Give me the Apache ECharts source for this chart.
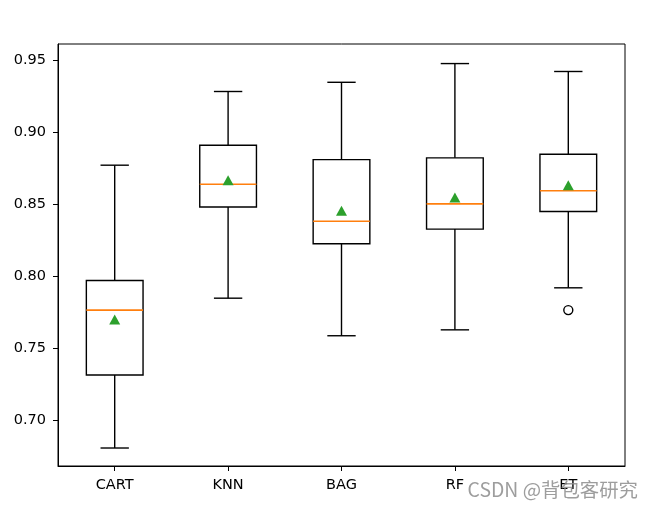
<!DOCTYPE html>
<html>
<head>
<meta charset="utf-8">
<script src="https://cdn.jsdelivr.net/npm/echarts@6/dist/echarts.min.js"></script>
<style>
html,body{margin:0;padding:0;background:#fff;}
#c{width:653px;height:511px;}
</style>
</head>
<body>
<div id="c"></div>
<script>
const categories = ['CART', 'KNN', 'BAG', 'RF', 'ET'];
const whiskerLow = [0.6808, 0.7849, 0.7588, 0.7629, 0.7921];
const q1 = [0.7315, 0.8483, 0.8227, 0.8329, 0.8451];
const medians = [0.7766, 0.8641, 0.8384, 0.8504, 0.8595];
const q3 = [0.7972, 0.8912, 0.8812, 0.8824, 0.8849];
const whiskerHigh = [0.8773, 0.9285, 0.9349, 0.9479, 0.9424];
const means = [0.7701, 0.8669, 0.8456, 0.8549, 0.8634];
const outliers = [['ET', 0.7766]];
const yTicks = [0.70, 0.75, 0.80, 0.85, 0.90, 0.95];

const boxData = categories.map((c, i) => [i, whiskerLow[i], q1[i], medians[i], q3[i], whiskerHigh[i]]);

function renderBox(params, api) {
  const idx = api.value(0);
  const lo = api.coord([idx, api.value(1)]);
  const b1 = api.coord([idx, api.value(2)]);
  const md = api.coord([idx, api.value(3)]);
  const b3 = api.coord([idx, api.value(4)]);
  const hi = api.coord([idx, api.value(5)]);
  const cw = api.size([1, 0])[0];
  const hw = cw * 0.25;
  const cap = cw * 0.125;
  const x = lo[0];
  const ls = {stroke: '#000', lineWidth: 1.4, fill: null};
  return {
    type: 'group',
    children: [
      {type: 'line', shape: {x1: x, y1: hi[1], x2: x, y2: b3[1]}, style: ls},
      {type: 'line', shape: {x1: x, y1: b1[1], x2: x, y2: lo[1]}, style: ls},
      {type: 'line', shape: {x1: x - cap, y1: hi[1], x2: x + cap, y2: hi[1]}, style: ls},
      {type: 'line', shape: {x1: x - cap, y1: lo[1], x2: x + cap, y2: lo[1]}, style: ls},
      {type: 'rect', shape: {x: x - hw, y: b3[1], width: hw * 2, height: b1[1] - b3[1]}, style: ls},
      {type: 'line', shape: {x1: x - hw, y1: md[1], x2: x + hw, y2: md[1]}, style: {stroke: '#ff7f0e', lineWidth: 1.6}}
    ]
  };
}

const chart = echarts.init(document.getElementById('c'), null, {renderer: 'canvas'});
chart.setOption({
  animation: false,
  backgroundColor: '#fff',
  grid: {left: 58, right: 28, top: 44, bottom: 45, show: true, borderColor: '#000', borderWidth: 1, backgroundColor: 'transparent'},
  xAxis: {
    type: 'category',
    data: categories,
    boundaryGap: true,
    axisLine: {show: true, lineStyle: {color: '#000', width: 1}},
    axisTick: {show: true, alignWithLabel: true, length: 5, lineStyle: {color: '#000'}},
    axisLabel: {color: '#000', fontFamily: 'DejaVu Sans', fontSize: 14.5, margin: 12},
    splitLine: {show: false}
  },
  yAxis: {
    type: 'value',
    min: 0.6683,
    max: 0.9615,
    axisLine: {show: true, lineStyle: {color: '#000', width: 1}},
    axisTick: {show: true, length: 5, lineStyle: {color: '#000'}, customValues: yTicks},
    axisLabel: {color: '#000', fontFamily: 'DejaVu Sans', fontSize: 14.5, margin: 12, customValues: yTicks, formatter: v => v.toFixed(2)},
    splitLine: {show: false}
  },
  series: [
    {type: 'custom', data: boxData, renderItem: renderBox, z: 2},
    {type: 'scatter', data: categories.map((c, i) => [c, means[i]]), symbol: 'triangle', symbolSize: [11, 10],
     itemStyle: {color: '#2ca02c', opacity: 1}, z: 4},
    {type: 'scatter', data: outliers, symbol: 'circle', symbolSize: 9,
     itemStyle: {color: '#fff', borderColor: '#000', borderWidth: 1.4, opacity: 1}, z: 4}
  ],
  graphic: [{
    type: 'text', right: 15, top: 480, z: 100,
    style: {text: 'CSDN @背包客研究', fontSize: 19.4, fontFamily: 'Noto Sans CJK SC', fill: 'rgba(140,140,140,0.85)'}
  }]
});
</script>
</body>
</html>
